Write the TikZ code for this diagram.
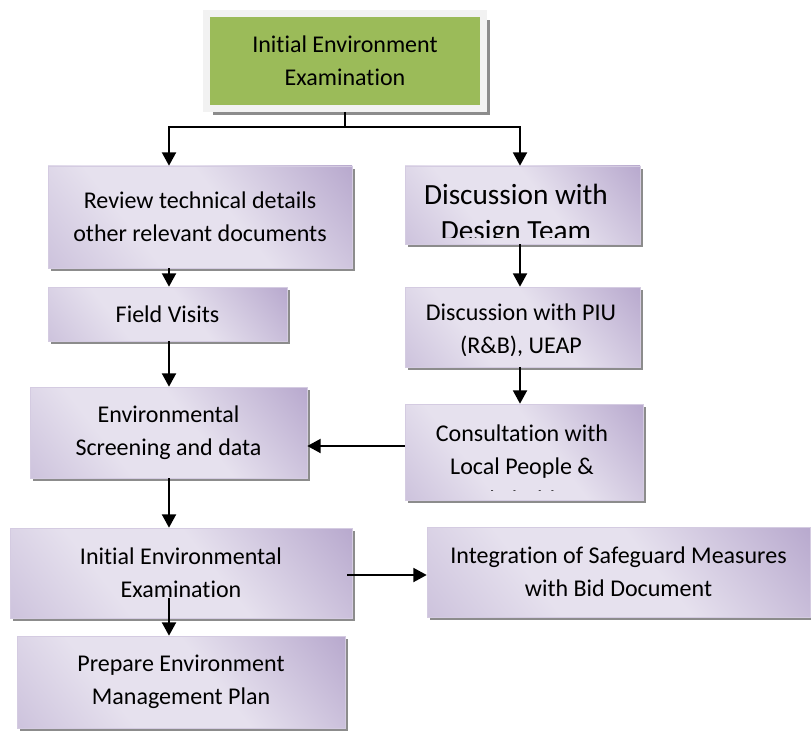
\documentclass[tikz,border=0pt]{standalone}
\usepackage{fontspec}
\setmainfont{Carlito}[Ligatures={NoCommon}]
\usetikzlibrary{arrows.meta,shadows}

\definecolor{boxdark}{HTML}{A08CBD}
\definecolor{boxmid}{HTML}{BBADD0}
\definecolor{boxlight}{HTML}{E6E1EE}
\definecolor{startgreen}{HTML}{9BBB59}
\definecolor{startrim}{HTML}{F2F2F2}
\definecolor{shadowgray}{HTML}{8C8C8C}

\pgfdeclarehorizontalshading{boxshade}{100bp}{color(0bp)=(boxmid); color(36bp)=(boxlight); color(56bp)=(boxlight); color(100bp)=(boxdark)}

\tikzset{
	stepbox/.style={rectangle, inner sep=0pt, draw=white!55!boxdark, line width=0.5pt,
		shading=boxshade, shading angle=38,
		drop shadow={shadow xshift=0.09cm, shadow yshift=-0.09cm, fill=shadowgray, opacity=1},
		align=center, font=\fontsize{20.5}{28}\selectfont},
	startbox/.style={rectangle, inner sep=0pt, fill=startgreen, draw=startrim, line width=0.21cm,
		drop shadow={shadow xshift=0.2cm, shadow yshift=-0.2cm, fill=shadowgray, opacity=1},
		align=center, font=\fontsize{20.5}{28}\selectfont},
	boxtext/.style={align=center, inner sep=0pt, font=\fontsize{20.5}{28}\selectfont},
	bigtext/.style={align=center, inner sep=0pt, font=\fontsize{25}{30.6}\selectfont},
	link/.style={line width=1.6pt, -{Triangle[width=0.42cm,length=0.4cm]}},
}

\begin{document}
\begin{tikzpicture}[x=0.03cm, y=-0.03cm]
	\useasboundingbox (0,0) rectangle (811,733);
	\coordinate (cl) at (169,0);
	\coordinate (cr) at (520,0);

	% start
	\node[startbox, minimum width=277*0.03cm, minimum height=95*0.03cm] (start) at (345,61) {Initial Environment\\Examination};

	% left column
	\node[stepbox, minimum width=304*0.03cm, minimum height=102*0.03cm] (review) at (200,217) {Review technical details\\other relevant documents};
	\node[stepbox, minimum width=239*0.03cm, minimum height=54*0.03cm] (field) at (167.5,314) {Field Visits};
	\node[stepbox, minimum width=277*0.03cm, minimum height=91*0.03cm] (env) at (168.5,432.5) {Environmental\\Screening and data};
	\node[stepbox, minimum width=342*0.03cm, minimum height=90*0.03cm] (iee) at (181,573) {Initial Environmental\\Examination};
	\node[stepbox, minimum width=328*0.03cm, minimum height=92*0.03cm] (prep) at (181,682) {Prepare Environment\\Management Plan};

	% right column, text runs past the bottom of these boxes
	\node[stepbox, minimum width=235*0.03cm, minimum height=78*0.03cm] (design) at (522.5,205) {};
	\begin{scope}
		\clip ([yshift=0.2cm]design.south west) rectangle (design.north east);
		\node[bigtext] (designtext) at (516,215) {Discussion with\\Design Team};
	\end{scope}
	\node[stepbox, minimum width=235*0.03cm, minimum height=80*0.03cm] (piu) at (522.5,327) {};
	\begin{scope}
		\clip ([yshift=0.36cm]piu.south west) rectangle (piu.north east);
		\node[boxtext] (piutext) at (521,330) {Discussion with PIU\\(R\&B), UEAP};
	\end{scope}
	\node[stepbox, minimum width=238*0.03cm, minimum height=96*0.03cm] (consult) at (524,452) {};
	\begin{scope}
		\clip ([yshift=0.3cm]consult.south west) rectangle (consult.north east);
		\node[boxtext] (consulttext) at (522,466) {Consultation with\\Local People \&\\Stakeholders};
	\end{scope}
	\node[stepbox, minimum width=383*0.03cm, minimum height=90*0.03cm] (integ) at (618.5,572) {Integration of Safeguard Measures\\with Bid Document};

	% connectors
	\coordinate (split) at (345,127);
	\draw[line width=1.6pt] (start.south) -- (split);
	\draw[link] (split) -| (review.north -| cl);
	\draw[link] (split) -| (design.north -| cr);
	\draw[link] (review.south -| cl) -- (field.north -| cl);
	\draw[link] (field.south -| cl) -- (env.north -| cl);
	\draw[link] (env.south -| cl) -- (iee.north -| cl);
	\coordinate (ieemid) at (169,598);
	\draw[link] (ieemid) -- (prep.north -| cl);
	\draw[link] (design.south -| cr) -- (piu.north -| cr);
	\draw[link] (piu.south -| cr) -- (consult.north -| cr);
	\coordinate (crossy) at (0,446);
	\draw[link] (consult.west |- crossy) -- (env.east |- crossy);
	\coordinate (sideout) at (347,575);
	\draw[link] (sideout) -- (integ.west |- sideout);
\end{tikzpicture}
\end{document}
